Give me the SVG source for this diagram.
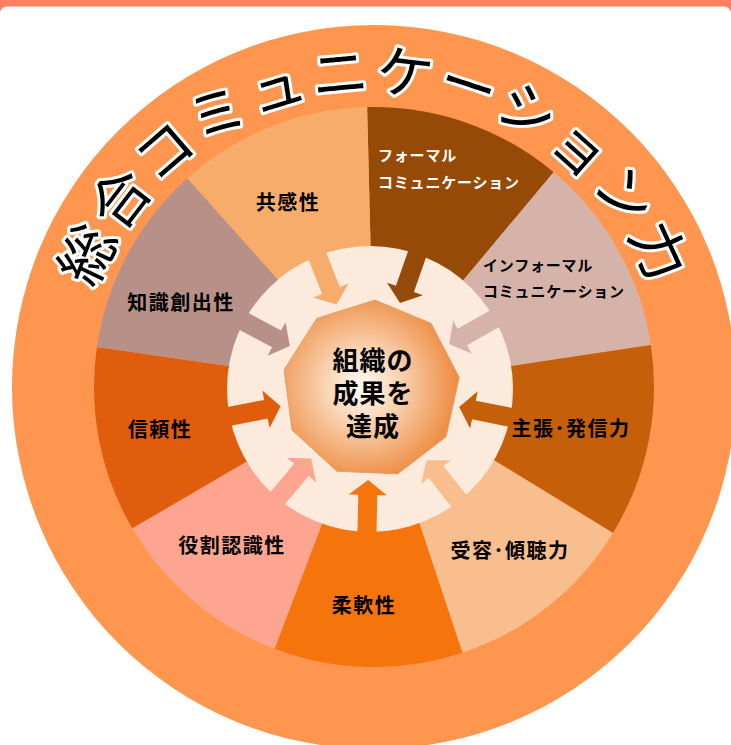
<svg xmlns="http://www.w3.org/2000/svg" xmlns:xlink="http://www.w3.org/1999/xlink" width="731" height="745" viewBox="0 0 731 745">
<style>
.lbl{font-family:"Noto Sans CJK JP","Noto Sans CJK SC",sans-serif;font-weight:700;font-size:20px;letter-spacing:1.5px;text-anchor:middle;fill:#000}
.sm{font-size:15px;letter-spacing:0.8px;text-anchor:start}
.wh{fill:#fff}
.ctr{font-size:26px;letter-spacing:1px}
.title{font-family:"Noto Sans CJK JP","Noto Sans CJK SC",sans-serif;font-weight:400;font-size:57px;letter-spacing:8.9px;fill:#000;stroke:#fff;stroke-width:6px;stroke-linejoin:round;paint-order:stroke fill;dominant-baseline:central}
</style>
<defs>
<polygon id="arr" points="91,0 106,19 106,9.5 146,9.5 146,-9.5 106,-9.5 106,-19"/>
<radialGradient id="core" gradientUnits="userSpaceOnUse" cx="362" cy="386" r="96">
<stop offset="0" stop-color="#FFFBF7"/>
<stop offset="0.35" stop-color="#FAD8BA"/>
<stop offset="1" stop-color="#EE8C42"/>
</radialGradient>
<path id="titlePath" d="M72.73,279.13 A320,320 0 0 1 689.42,440.92"/>
</defs>
<rect width="731" height="745" fill="#fff"/>
<rect width="731" height="12" fill="#FF7F60"/>
<rect y="6.5" width="731" height="760" rx="7" fill="#fff"/>
<g id="outer-ring">
<circle cx="374" cy="387" r="362" fill="#FE964F"/>
<text class="title"><textPath xlink:href="#titlePath" href="#titlePath">総合コミュニケーション力</textPath></text>
</g>
<g id="formal">
<path d="M374,387 L367.16,107.08 A280,280 0 0 1 553.61,172.19 Z" fill="#964A07"/>
<text class="lbl sm wh" x="378" y="161">フォーマル</text>
<text class="lbl sm wh" x="378" y="188">コミュニケーション</text>
</g>
<g id="informal">
<path d="M374,387 L553.61,172.19 A280,280 0 0 1 650.82,344.89 Z" fill="#D5B3A8"/>
<text class="lbl sm" x="483" y="271">インフォーマル</text>
<text class="lbl sm" x="483" y="297">コミュニケーション</text>
</g>
<g id="assert">
<path d="M374,387 L650.82,344.89 A280,280 0 0 1 612.99,532.88 Z" fill="#C65F09"/>
<text class="lbl" x="571" y="436">主張･発信力</text>
</g>
<g id="listen">
<path d="M374,387 L612.99,532.88 A280,280 0 0 1 462.38,652.69 Z" fill="#F8BE8D"/>
<text class="lbl" x="510" y="558">受容･傾聴力</text>
</g>
<g id="flex">
<path d="M374,387 L462.38,652.69 A280,280 0 0 1 274.57,648.75 Z" fill="#F5740C"/>
<text class="lbl" x="364" y="613">柔軟性</text>
</g>
<g id="role">
<path d="M374,387 L274.57,648.75 A280,280 0 0 1 132.26,528.30 Z" fill="#FDA590"/>
<text class="lbl" x="232" y="553">役割認識性</text>
</g>
<g id="trust">
<path d="M374,387 L132.26,528.30 A280,280 0 0 1 96.86,347.06 Z" fill="#E05D0E"/>
<text class="lbl" x="160" y="437">信頼性</text>
</g>
<g id="knowledge">
<path d="M374,387 L96.86,347.06 A280,280 0 0 1 187.37,178.27 Z" fill="#B79088"/>
<text class="lbl" x="181" y="310">知識創出性</text>
</g>
<g id="empathy">
<path d="M374,387 L187.37,178.27 A280,280 0 0 1 367.16,107.08 Z" fill="#F8AC6C"/>
<text class="lbl" x="288" y="210">共感性</text>
</g>
<g id="ring">
<circle cx="370" cy="389" r="143" fill="#FCEADC"/>
</g>
<g id="connectors">
<use href="#arr" xlink:href="#arr" fill="#964A07" transform="translate(370 389) rotate(-70.75)"/>
<use href="#arr" xlink:href="#arr" fill="#D5B3A8" transform="translate(370 389) rotate(-29.4)"/>
<use href="#arr" xlink:href="#arr" fill="#C65F09" transform="translate(370 389) rotate(11.4)"/>
<use href="#arr" xlink:href="#arr" fill="#F8BE8D" transform="translate(370 389) rotate(51.5)"/>
<use href="#arr" xlink:href="#arr" fill="#F5740C" transform="translate(370 389) rotate(91.2)"/>
<use href="#arr" xlink:href="#arr" fill="#FDA590" transform="translate(370 389) rotate(130.25)"/>
<use href="#arr" xlink:href="#arr" fill="#E05D0E" transform="translate(370 389) rotate(169)"/>
<use href="#arr" xlink:href="#arr" fill="#B79088" transform="translate(370 389) rotate(208.2)"/>
<use href="#arr" xlink:href="#arr" fill="#F8AC6C" transform="translate(370 389) rotate(248.4)"/>
</g>
<g id="goal">
<polygon points="374.88,300.08 431.13,323.38 459.24,377.38 446.06,436.82 397.76,473.88 336.94,471.23 292.06,430.10 284.11,369.74 316.82,318.39" fill="url(#core)" stroke="#E2A06C" stroke-width="1"/>
<text class="lbl ctr" x="373" y="370">組織の</text>
<text class="lbl ctr" x="373" y="403">成果を</text>
<text class="lbl ctr" x="373" y="436">達成</text>
</g>
</svg>
